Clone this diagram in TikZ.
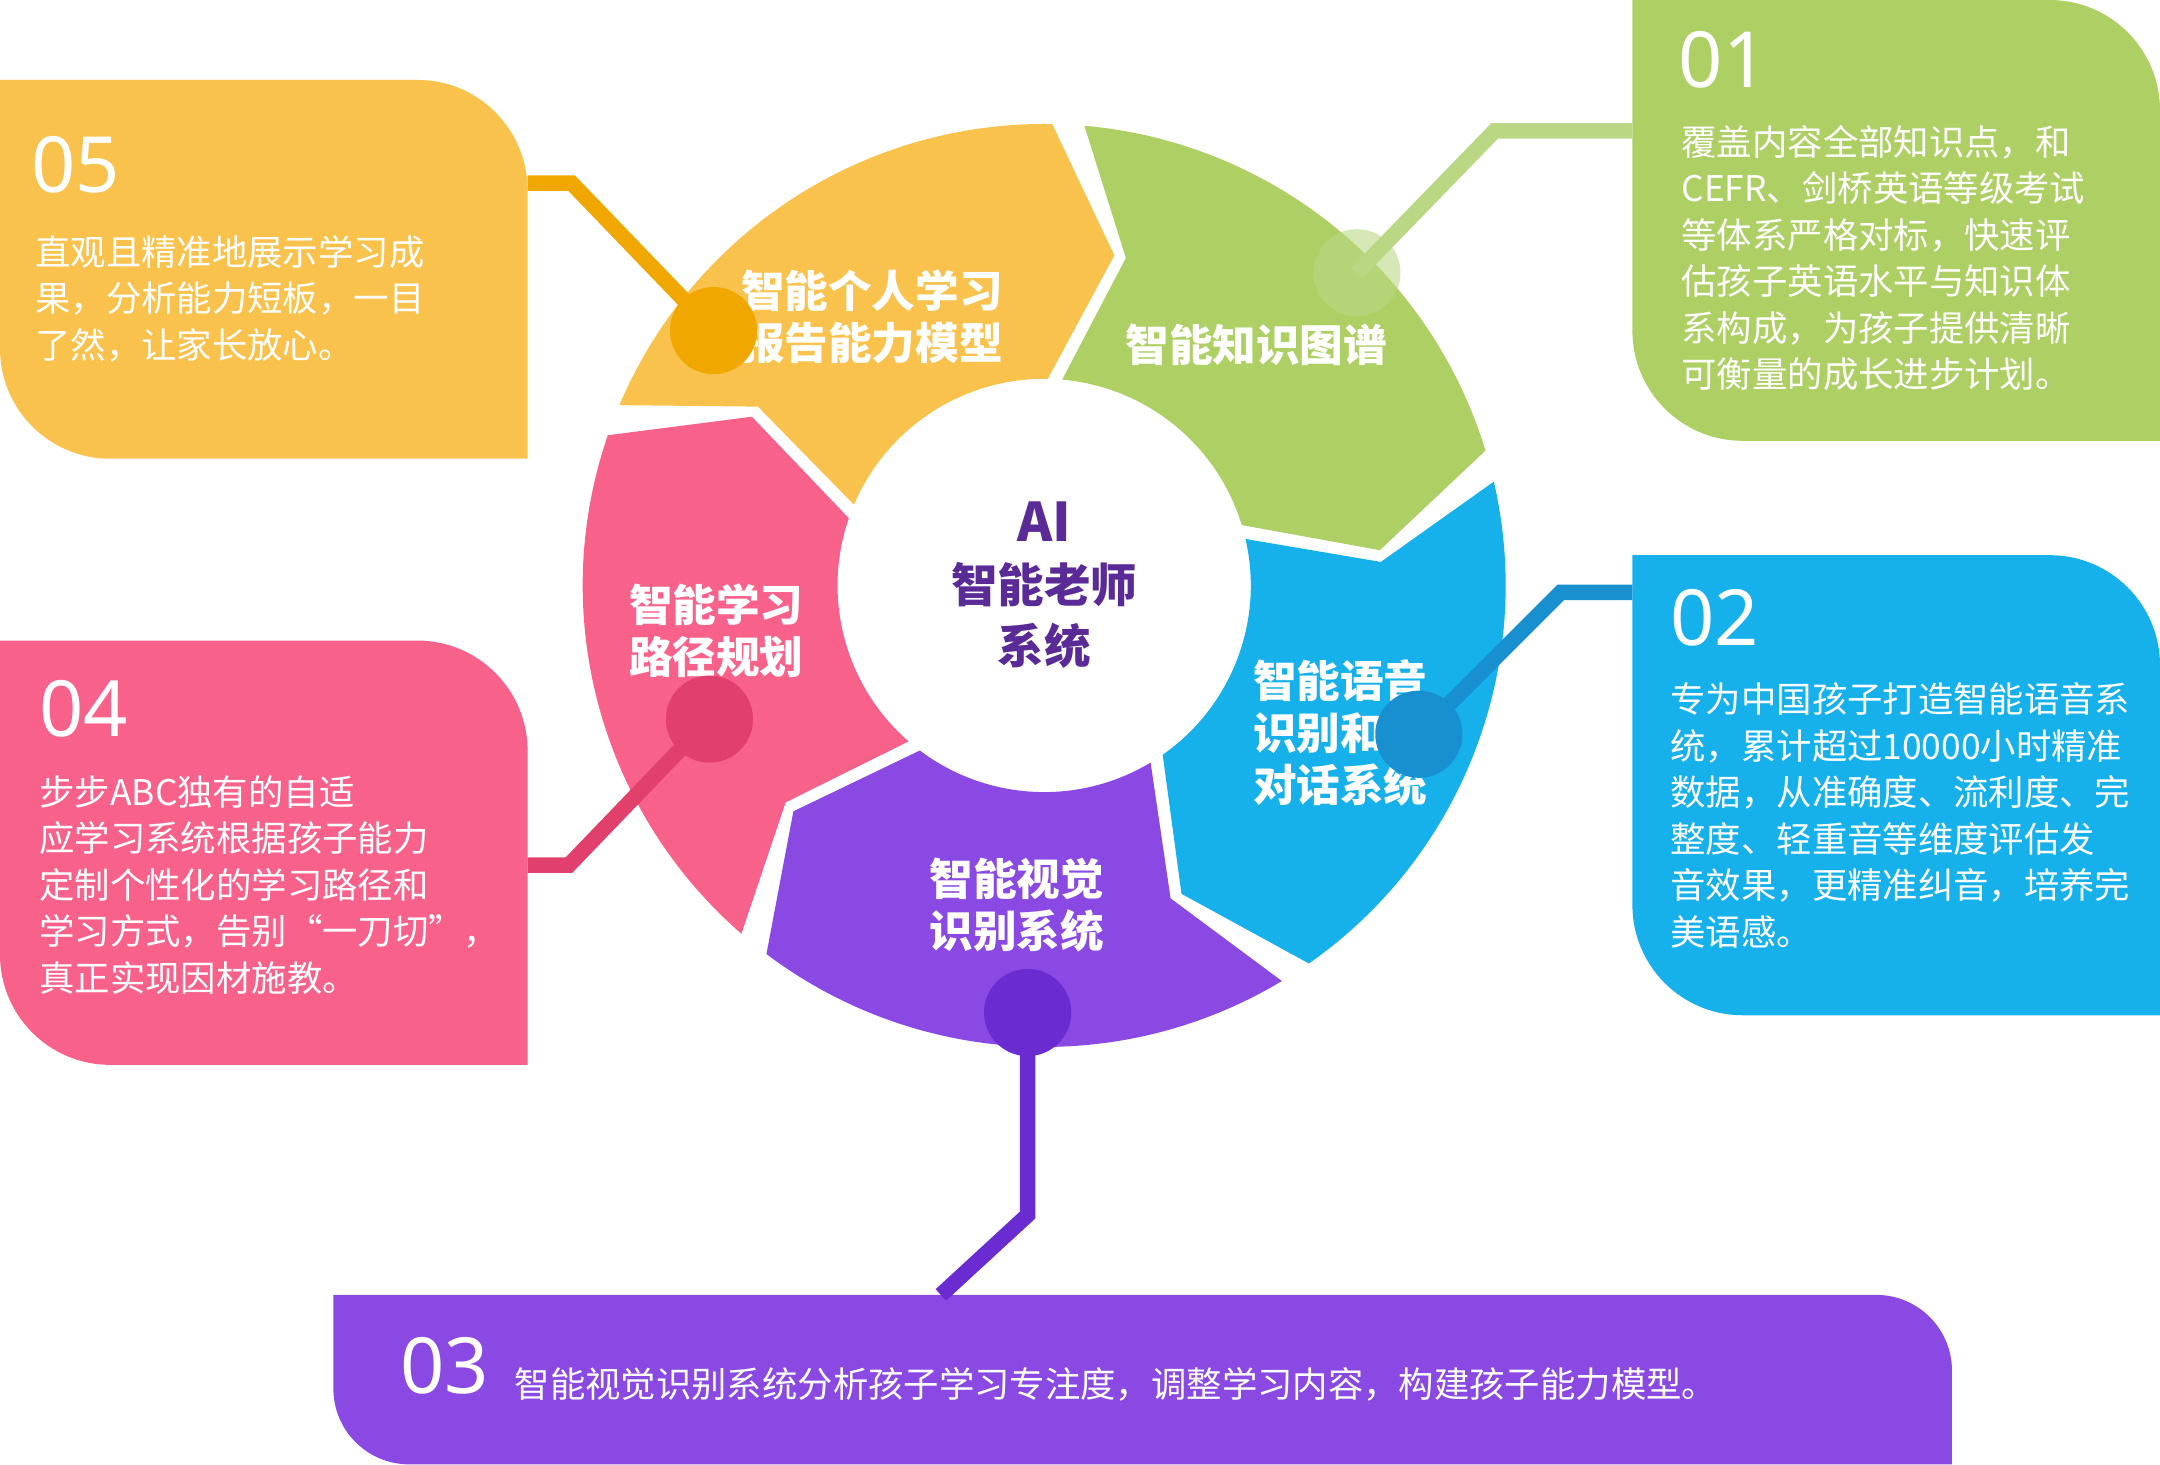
\documentclass[tikz,border=0pt]{standalone}
\usepackage{fontspec}
\setmainfont{Noto Sans CJK SC}
\newfontfamily\numfont{Noto Sans}
\usetikzlibrary{calc}
\begin{document}
\begin{tikzpicture}[x=0.01cm,y=-0.01cm,
  body/.style={anchor=north west,align=left,inner sep=0pt,text=white,font=\fontsize{7.3}{9.6}\selectfont},
  num/.style={anchor=north west,inner sep=0pt,text=white,font=\numfont\fontsize{16}{16}\selectfont},
  seglab/.style={align=center,text=white,inner sep=0pt,font=\bfseries\fontsize{9}{10.8}\selectfont},
  dot/.style={circle,fill,inner sep=0pt,minimum size=18},
  conn/.style={line width=3.2}]
\definecolor{cy}{HTML}{F9C24C}\definecolor{cg}{HTML}{ADCF64}
\definecolor{cb}{HTML}{16B0EA}\definecolor{cp}{HTML}{F8628A}
\definecolor{cv}{HTML}{8A49E2}\definecolor{ctr}{HTML}{5A2A96}
\definecolor{ly}{HTML}{F0A800}\definecolor{lg}{HTML}{BAD884}
\definecolor{lb}{HTML}{1890CF}\definecolor{lp}{HTML}{E2406C}
\definecolor{lv}{HTML}{6A2BD0}
\useasboundingbox (0,0) rectangle (1568,1063);
% boxes
\newcommand{\rbox}[6]{\fill[#6] (#1,#2) -- ({#3-#5},#2) arc[start angle=-90,end angle=0,radius=#5] -- (#3,#4) -- ({#1+#5},#4) arc[start angle=90,end angle=180,radius=#5] -- cycle;}
\rbox{0}{58}{383}{333}{80}{cy}
\rbox{1185}{0}{1568}{320}{80}{cg}
\rbox{1185}{403}{1568}{737}{80}{cb}
\rbox{0}{465}{383}{773}{80}{cp}
\rbox{242}{940}{1417}{1063}{55}{cv}
% ring
\coordinate (C) at (758,425);
\newcommand{\seg}[3]{\fill[#3] ($(C)+({#1+2}:335)$) arc[start angle={#1+2},end angle={#2-2},radius=335]
  -- ($(C)+({#2+9}:245)$) -- ($(C)+({#2-2}:150)$) arc[start angle={#2-2},end angle={#1+2},radius=150]
  -- ($(C)+({#1+11}:245)$) -- cycle;}
\seg{-87}{-15}{cg}
\seg{-15}{57}{cb}
\seg{57}{129}{cv}
\seg{129}{201}{cp}
\seg{201}{273}{cy}
% segment labels
\node[seglab] (s5) at (633,230) {智能个人学习\\报告能力模型};
\node[seglab] (s1) at (912,250) {智能知识图谱};
\node[seglab,align=left] (s2) at (973,532) {智能语音\\识别和\\对话系统};
\node[seglab] (s3) at (738,657) {智能视觉\\识别系统};
\node[seglab] (s4) at (520,458) {智能学习\\路径规划};
\node[align=center,text=ctr,inner sep=0pt,font=\bfseries\fontsize{9.6}{12.6}\selectfont] (ctr) at (758,425) {{\fontsize{11}{12}\selectfont AI}\\智能老师\\系统};
% dots and connectors
\node[dot,text=ly,fill=ly] (d5) at (518,240) {};
\node[dot,fill=lg,opacity=0.6] (d1) at (985,198) {};
\node[dot,fill=lb] (d2) at (1030,533) {};
\node[dot,fill=lp] (d4) at (515,522) {};
\node[dot,fill=lv] (d3) at (746,735) {};
\coordinate (e5) at (383,133); \coordinate (e1) at (1185,95);
\coordinate (e2) at (1185,430); \coordinate (e4) at (383,628);
\coordinate (e3) at (683,940);
\draw[conn,ly] (d5.center) -- (415,133) -- (e5);
\draw[conn,lg] (d1.center) -- (1085,95) -- (e1);
\draw[conn,lb] (d2.center) -- (1133,430) -- (e2);
\draw[conn,lp] (d4.center) -- (413,628) -- (e4);
\draw[conn,lv] (d3.center) -- (746,882) -- (e3);
% box texts
\node[num] (n5) at (22,98) {05};
\node[body] (t5) at (25,170) {直观且精准地展示学习成\\果，分析能力短板，一目\\了然，让家长放心。};
\node[num] (n1) at (1218,22) {01};
\node[body] (t1) at (1220,90) {覆盖内容全部知识点，和\\CEFR、剑桥英语等级考试\\等体系严格对标，快速评\\估孩子英语水平与知识体\\系构成，为孩子提供清晰\\可衡量的成长进步计划。};
\node[num] (n2) at (1212,427) {02};
\node[body] (t2) at (1212,495) {专为中国孩子打造智能语音系\\统，累计超过10000小时精准\\数据，从准确度、流利度、完\\整度、轻重音等维度评估发\\音效果，更精准纠音，培养完\\美语感。};
\node[num] (n4) at (28,493) {04};
\node[body] (t4) at (28,562) {步步ABC独有的自适\\应学习系统根据孩子能力\\定制个性化的学习路径和\\学习方式，告别“一刀切”，\\真正实现因材施教。};
\node[num] (n3) at (290,970) {03};
\node[body] (t3) at (373,992) {智能视觉识别系统分析孩子学习专注度，调整学习内容，构建孩子能力模型。};
\end{tikzpicture}
\end{document}
